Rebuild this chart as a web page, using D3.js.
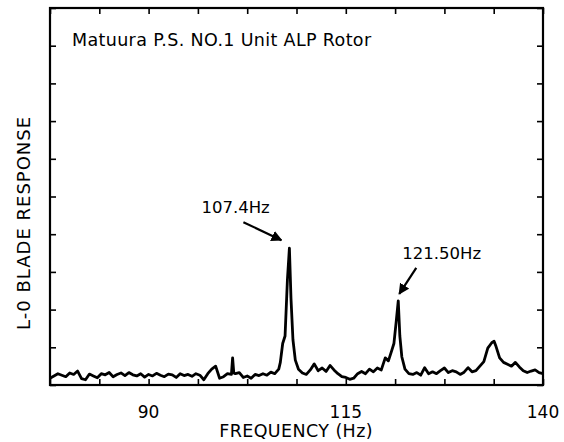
<!DOCTYPE html>
<html>
<head>
<meta charset="utf-8">
<script src="https://cdn.jsdelivr.net/npm/d3@7"></script>
<style>
  body { margin: 0; background: #fff; }
  text { font-family: "DejaVu Sans", "Liberation Sans", sans-serif; fill: #000; }
</style>
</head>
<body>
<div class="canvas"></div>
<script>
// frequency (Hz) of each sample
const freq = [
  77.5, 78, 78.5, 79, 79.5, 80, 80.5, 81, 81.5, 82, 82.5, 83, 83.5, 84, 84.5, 85,
  85.5, 86, 86.5, 87, 87.5, 88, 88.5, 89, 89.5, 90, 90.5, 91, 91.5, 92, 92.5, 93,
  93.5, 94, 94.5, 95, 95.5, 96, 96.5, 97, 97.5, 98, 98.5, 99, 99.5, 100, 100.5, 100.65,
  100.8, 101, 101.5, 102, 102.5, 103, 103.5, 104, 104.5, 105, 105.5, 106, 106.5, 106.7,
  107, 107.3, 107.6, 107.85, 108.05, 108.3, 108.6, 109, 109.5, 110, 110.5, 111, 111.5, 112,
  112.5, 113, 113.5, 114, 114.5, 115, 115.5, 116, 116.5, 117, 117.5, 118, 118.5, 119,
  119.5, 120, 120.4, 120.8, 121.1, 121.4, 121.65, 121.85, 122.1, 122.5, 123, 123.5, 124, 124.5,
  125, 125.5, 126, 126.5, 127, 127.5, 128, 128.5, 129, 129.5, 130, 130.5, 131, 131.5,
  132, 132.5, 133, 133.5, 133.8, 134, 134.5, 135, 135.5, 136, 136.5, 137, 137.5, 138,
  138.5, 139, 139.5, 140
];
// blade response (arbitrary units, 10 divisions full scale)
const response = [
  0.18, 0.24, 0.30, 0.26, 0.22, 0.32, 0.28, 0.37, 0.17, 0.14, 0.29, 0.24, 0.19, 0.30, 0.27, 0.33,
  0.22, 0.28, 0.32, 0.25, 0.33, 0.27, 0.24, 0.30, 0.21, 0.28, 0.24, 0.31, 0.26, 0.22, 0.29, 0.27,
  0.20, 0.30, 0.25, 0.28, 0.23, 0.30, 0.26, 0.14, 0.30, 0.42, 0.50, 0.18, 0.22, 0.30, 0.28, 0.72,
  0.32, 0.30, 0.33, 0.20, 0.24, 0.18, 0.28, 0.25, 0.30, 0.26, 0.34, 0.30, 0.42, 0.60,
  1.10, 1.30, 2.80, 3.63, 2.30, 1.20, 0.66, 0.42, 0.32, 0.28, 0.40, 0.56, 0.38, 0.45,
  0.36, 0.52, 0.40, 0.30, 0.22, 0.20, 0.15, 0.18, 0.30, 0.36, 0.30, 0.42, 0.35, 0.45,
  0.40, 0.72, 0.64, 0.90, 1.10, 1.70, 2.23, 1.30, 0.75, 0.42, 0.30, 0.28, 0.33, 0.26,
  0.46, 0.30, 0.35, 0.30, 0.38, 0.45, 0.33, 0.38, 0.35, 0.28, 0.34, 0.46, 0.35, 0.38,
  0.50, 0.62, 0.98, 1.12, 1.16, 1.05, 0.72, 0.60, 0.55, 0.50, 0.60, 0.48, 0.38, 0.33,
  0.37, 0.40, 0.33, 0.30
];
const xLabels = [90, 115, 140];
const peaks = [
  { text: "107.4Hz", f: 107.85, v: 3.63 },
  { text: "121.50Hz", f: 121.65, v: 2.23 }
];
const title = "Matuura P.S. NO.1 Unit ALP Rotor";

const w = 564;
const h = 442;
const margin = { top: 8, right: 21, bottom: 57, left: 50 };
const graphWidth = w - margin.left - margin.right;
const graphHeight = h - margin.top - margin.bottom;

const svg = d3.select(".canvas").append("svg").attr("width", w).attr("height", h);

const x = d3.scaleLinear().domain([77.5, 140]).range([0, graphWidth]);
const y = d3.scaleLinear().domain([0, 10]).range([graphHeight, 0]);

const graph = svg.append("g").attr("transform", `translate(${margin.left}, ${margin.top})`);

// arrow head
svg.append("defs").append("marker")
  .attr("id", "head")
  .attr("viewBox", "0 0 10 10")
  .attr("refX", 9).attr("refY", 5)
  .attr("markerWidth", 5).attr("markerHeight", 5)
  .attr("orient", "auto")
  .append("path").attr("d", "M0,0 L10,5 L0,10 z").attr("fill", "#000");

// tick values: minor every 6.25 Hz, labels only at 90 / 115 / 140
const xTicks = d3.range(0, 11).map(i => 77.5 + i * 6.25);
const yTicks = d3.range(0, 11);
const tickLen = 6;

const inner = (axis) => axis.tickSize(-tickLen).tickFormat("");
const axes = [
  graph.append("g").attr("transform", `translate(0, ${graphHeight})`).call(inner(d3.axisBottom(x).tickValues(xTicks))),
  graph.append("g").call(inner(d3.axisTop(x).tickValues(xTicks))),
  graph.append("g").call(inner(d3.axisLeft(y).tickValues(yTicks))),
  graph.append("g").attr("transform", `translate(${graphWidth}, 0)`).call(inner(d3.axisRight(y).tickValues(yTicks)))
];
axes.forEach(g => {
  g.select(".domain").remove();
  g.selectAll("line").attr("stroke", "#000").attr("stroke-width", 1.6);
});

// frame
graph.append("rect")
  .attr("width", graphWidth).attr("height", graphHeight)
  .attr("fill", "none").attr("stroke", "#000").attr("stroke-width", 2.2);

// x labels
graph.selectAll(".xl").data(xLabels).enter().append("text")
  .attr("x", d => x(d)).attr("y", graphHeight + 33)
  .attr("text-anchor", "middle").attr("font-size", 17)
  .text(d => d);

svg.append("text")
  .attr("x", margin.left + x(108.7)).attr("y", 437)
  .attr("text-anchor", "middle").attr("font-size", 17.5)
  .attr("letter-spacing", 0.4)
  .text("FREQUENCY (Hz)");

svg.append("text")
  .attr("transform", `translate(30, ${margin.top + y(4.3)}) rotate(-90)`)
  .attr("text-anchor", "middle").attr("font-size", 18)
  .attr("letter-spacing", 1)
  .text("L-0 BLADE RESPONSE");

svg.append("text")
  .attr("x", 72).attr("y", 46).attr("font-size", 17.5)
  .attr("letter-spacing", 0.35)
  .text(title);

// trace
const points = freq.map((f, i) => [f, response[i]]);
const line = d3.line().x(d => x(d[0])).y(d => y(d[1]));
graph.append("path")
  .datum(points)
  .attr("d", line)
  .attr("fill", "none").attr("stroke", "#000")
  .attr("stroke-width", 2.8).attr("stroke-linejoin", "round");

// peak annotations
const p0 = peaks[0];
graph.append("text")
  .attr("x", x(p0.f) - 88).attr("y", y(p0.v) - 35)
  .attr("font-size", 16.5).text(p0.text);
graph.append("line")
  .attr("x1", x(p0.f) - 46).attr("y1", y(p0.v) - 26)
  .attr("x2", x(p0.f) - 8).attr("y2", y(p0.v) - 8)
  .attr("stroke", "#000").attr("stroke-width", 2.2).attr("marker-end", "url(#head)");

const p1 = peaks[1];
graph.append("text")
  .attr("x", x(p1.f) + 4).attr("y", y(p1.v) - 42)
  .attr("font-size", 16.5).text(p1.text);
graph.append("line")
  .attr("x1", x(p1.f) + 18).attr("y1", y(p1.v) - 33)
  .attr("x2", x(p1.f) + 1).attr("y2", y(p1.v) - 7)
  .attr("stroke", "#000").attr("stroke-width", 2.2).attr("marker-end", "url(#head)");
</script>
</body>
</html>
